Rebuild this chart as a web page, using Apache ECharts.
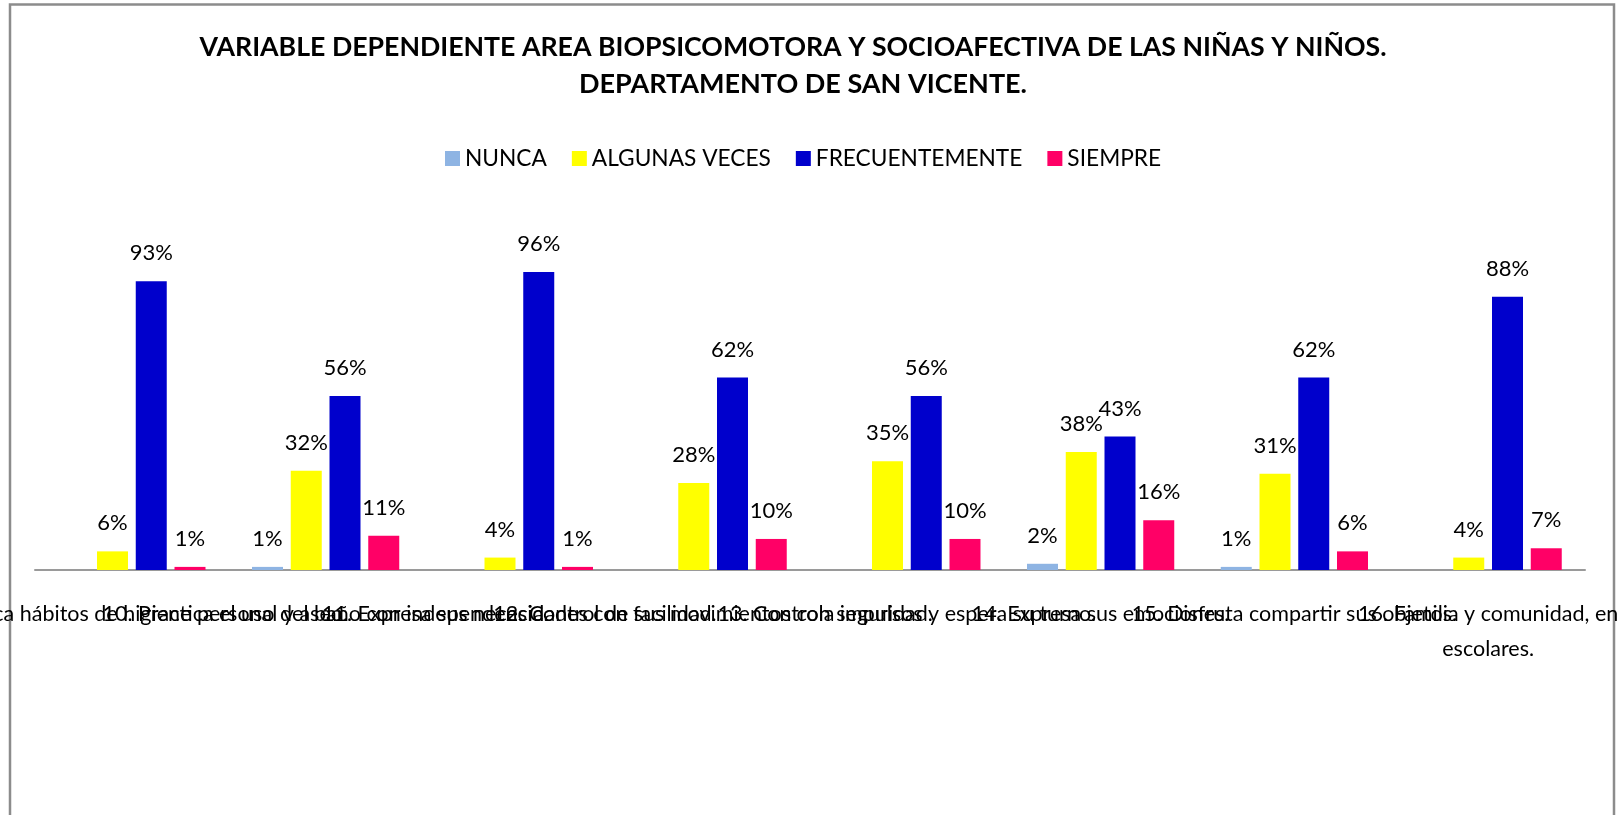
<!DOCTYPE html>
<html>
<head>
<meta charset="utf-8">
<script src="https://cdn.jsdelivr.net/npm/echarts@6/dist/echarts.min.js"></script>
<style>
  html, body { margin: 0; padding: 0; background: #ffffff; }
  #chart { width: 1623px; height: 815px; }
</style>
</head>
<body>
<div id="chart"></div>
<script>
// Indicadores evaluados (eje de categorías)
const categories = [
  '9. Practica hábitos de higiene personal y aseo.',
  '10. Practica el uso del baño con independencia.',
  '11. Expresa sus necesidades con facilidad.',
  '12. Control de sus movimientos con seguridad.',
  '13. Controla impulsos y espera su turno.',
  '14. Expresa sus emociones.',
  '15. Disfruta compartir sus objetos.',
  '16. Familia y comunidad, en\nescolares.'
];

// Porcentajes por frecuencia ('-' = sin respuesta)
const nunca          = ['-', 1, '-', '-', '-', 2, 1, '-'];
const algunasVeces   = [6, 32, 4, 28, 35, 38, 31, 4];
const frecuentemente = [93, 56, 96, 62, 56, 43, 62, 88];
const siempre        = [1, 11, 1, 10, 10, 16, 6, 7];

const seriesNames = ['NUNCA', 'ALGUNAS VECES', 'FRECUENTEMENTE', 'SIEMPRE'];
const seriesColors = ['#8EB4E3', '#FFFF00', '#0000CC', '#FF0066'];
const seriesData = [nunca, algunasVeces, frecuentemente, siempre];

const FONT = 'Lato';

const chart = echarts.init(document.getElementById('chart'), null, { renderer: 'canvas' });

const option = {
  backgroundColor: '#ffffff',
  animation: false,
  title: [
    {
      text: 'VARIABLE DEPENDIENTE AREA BIOPSICOMOTORA Y SOCIOAFECTIVA DE LAS NIÑAS Y NIÑOS.',
      left: 788, top: 29, textAlign: 'center',
      textStyle: { fontFamily: FONT, fontWeight: 'bold', fontSize: 26.7, color: '#000' }
    },
    {
      text: 'DEPARTAMENTO DE SAN VICENTE.',
      left: 798, top: 66, textAlign: 'center',
      textStyle: { fontFamily: FONT, fontWeight: 'bold', fontSize: 27, color: '#000' }
    }
  ],
  legend: {
    data: seriesNames,
    top: 142,
    left: 440,
    itemWidth: 15,
    itemHeight: 15,
    itemGap: 25,
    icon: 'rect',
    textStyle: { fontFamily: FONT, fontSize: 22.7, color: '#000' }
  },
  grid: {
    left: 35, right: 38, top: 259.5, bottom: 245,
    containLabel: false,
    outerBoundsMode: 'none'
  },
  xAxis: {
    type: 'category',
    data: categories,
    axisLine: { lineStyle: { color: '#9a9a9a', width: 2 } },
    axisTick: { show: false },
    axisLabel: {
      interval: 0,
      margin: 27,
      hideOverlap: false,
      fontFamily: FONT,
      fontSize: 21.5,
      lineHeight: 35,
      color: '#000',
      align: 'center'
    }
  },
  yAxis: {
    type: 'value',
    min: 0, max: 100,
    show: false,
    splitLine: { show: false }
  },
  series: seriesNames.map((name, i) => ({
    name: name,
    type: 'bar',
    data: seriesData[i],
    barWidth: 31,
    barGap: '25%',
    barCategoryGap: '24%',
    itemStyle: { color: seriesColors[i] },
    label: {
      show: true,
      position: 'top',
      distance: 17,
      formatter: '{c}%',
      fontFamily: FONT,
      fontSize: 22,
      color: '#000'
    }
  })),
  graphic: [
    {
      type: 'rect',
      silent: true,
      z: -1,
      shape: { x: 10, y: 4.5, width: 1604, height: 900 },
      style: { fill: 'none', stroke: '#8c8c8c', lineWidth: 2.5 }
    }
  ]
};

chart.setOption(option);
</script>
</body>
</html>
